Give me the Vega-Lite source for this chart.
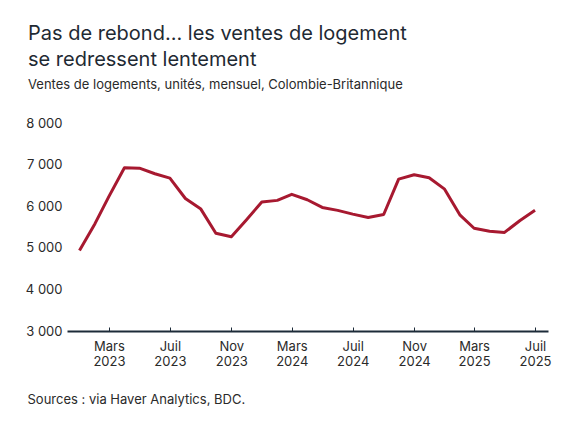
{
  "$schema": "https://vega.github.io/schema/vega-lite/v6.json",
  "autosize": {"type": "none"},
  "width": 481,
  "height": 208,
  "padding": {"left": 67, "top": 123, "right": 27, "bottom": 100},
  "background": "white",
  "title": {
    "text": ["Pas de rebond... les ventes de logement", "se redressent lentement"],
    "subtitle": "Ventes de logements, unités, mensuel, Colombie-Britannique",
    "anchor": "start",
    "frame": "group",
    "dx": -39,
    "offset": 25,
    "font": "Inter",
    "fontSize": 20,
    "fontWeight": "normal",
    "lineHeight": 26,
    "color": "#1f2a33",
    "subtitleFont": "Inter",
    "subtitleFontSize": 13,
    "subtitleColor": "#2a2a2a",
    "subtitlePadding": 9
  },
  "data": {
    "values": [
      {"date": "2023-01-01", "ventes": 4935},
      {"date": "2023-02-01", "ventes": 5580},
      {"date": "2023-03-01", "ventes": 6235},
      {"date": "2023-04-01", "ventes": 6925},
      {"date": "2023-05-01", "ventes": 6915},
      {"date": "2023-06-01", "ventes": 6780},
      {"date": "2023-07-01", "ventes": 6675},
      {"date": "2023-08-01", "ventes": 6185},
      {"date": "2023-09-01", "ventes": 5930},
      {"date": "2023-10-01", "ventes": 5350},
      {"date": "2023-11-01", "ventes": 5265},
      {"date": "2023-12-01", "ventes": 5670},
      {"date": "2024-01-01", "ventes": 6100},
      {"date": "2024-02-01", "ventes": 6140},
      {"date": "2024-03-01", "ventes": 6285},
      {"date": "2024-04-01", "ventes": 6155},
      {"date": "2024-05-01", "ventes": 5970},
      {"date": "2024-06-01", "ventes": 5900},
      {"date": "2024-07-01", "ventes": 5810},
      {"date": "2024-08-01", "ventes": 5730},
      {"date": "2024-09-01", "ventes": 5800},
      {"date": "2024-10-01", "ventes": 6650},
      {"date": "2024-11-01", "ventes": 6755},
      {"date": "2024-12-01", "ventes": 6685},
      {"date": "2025-01-01", "ventes": 6410},
      {"date": "2025-02-01", "ventes": 5785},
      {"date": "2025-03-01", "ventes": 5470},
      {"date": "2025-04-01", "ventes": 5400},
      {"date": "2025-05-01", "ventes": 5370},
      {"date": "2025-06-01", "ventes": 5655},
      {"date": "2025-07-01", "ventes": 5900}
    ]
  },
  "mark": {"type": "line", "color": "#a71930", "strokeWidth": 3, "strokeJoin": "round"},
  "encoding": {
    "x": {
      "field": "date",
      "type": "temporal",
      "scale": {"type": "utc", "domain": ["2022-12-07", "2025-07-27"]},
      "axis": {
        "title": "Sources : via Haver Analytics, BDC.",
        "titleFont": "Inter",
        "titleFontSize": 13,
        "titleFontWeight": "normal",
        "titleColor": "#2a2a2a",
        "titleAnchor": "start",
        "titleAlign": "left",
        "titleX": -40,
        "titlePadding": 25,
        "values": [
          {"year": 2023, "month": 3, "date": 1, "utc": true},
          {"year": 2023, "month": 7, "date": 1, "utc": true},
          {"year": 2023, "month": 11, "date": 1, "utc": true},
          {"year": 2024, "month": 3, "date": 1, "utc": true},
          {"year": 2024, "month": 7, "date": 1, "utc": true},
          {"year": 2024, "month": 11, "date": 1, "utc": true},
          {"year": 2025, "month": 3, "date": 1, "utc": true},
          {"year": 2025, "month": 7, "date": 1, "utc": true}
        ],
        "labelExpr": "[['Janv','Févr','Mars','Avr','Mai','Juin','Juil','Août','Sept','Oct','Nov','Déc'][utcmonth(datum.value)], '' + utcyear(datum.value)]",
        "labelFont": "Inter",
        "labelFontSize": 13,
        "labelLineHeight": 15,
        "labelColor": "#2a2a2a",
        "labelPadding": 13,
        "domainColor": "#1c2b39",
        "domainWidth": 2,
        "tickColor": "#1c2b39",
        "tickSize": -4,
        "tickWidth": 1,
        "grid": false
      }
    },
    "y": {
      "field": "ventes",
      "type": "quantitative",
      "scale": {"domain": [3000, 8000], "nice": false},
      "axis": {
        "title": null,
        "values": [3000, 4000, 5000, 6000, 7000, 8000],
        "labelExpr": "replace(format(datum.value, ','), ',', ' ')",
        "labelFont": "Inter",
        "labelFontSize": 13,
        "labelColor": "#2a2a2a",
        "labelPadding": 5,
        "domain": false,
        "ticks": false,
        "grid": false
      }
    }
  },
  "config": {"view": {"stroke": null}}
}
